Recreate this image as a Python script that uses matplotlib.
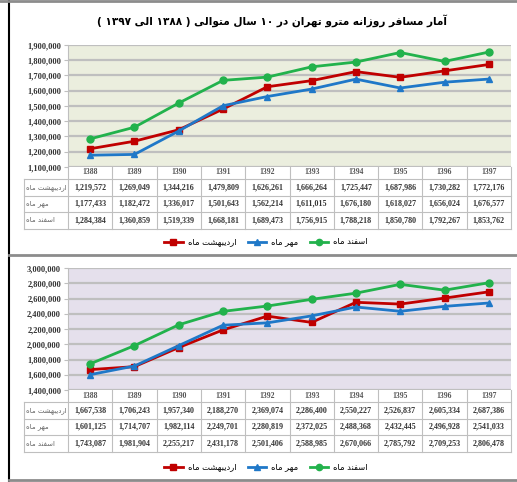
import numpy as np
import matplotlib
matplotlib.use('Agg')
import matplotlib.pyplot as plt
from matplotlib.lines import Line2D
from matplotlib.ticker import FuncFormatter

years = ['1388', '1389', '1390', '1391', '1392', '1393', '1394', '1395', '1396', '1397']
series_names = ['اردیبهشت ماه', 'مهر ماه', 'اسفند ماه']

# top chart
ordibehesht_1 = [1219572, 1269049, 1344216, 1479809, 1626261, 1666264, 1725447, 1687986, 1730282, 1772176]
mehr_1 = [1177433, 1182472, 1336017, 1501643, 1562214, 1611015, 1676180, 1618027, 1656024, 1676577]
esfand_1 = [1284384, 1360859, 1519339, 1668181, 1689473, 1756915, 1788218, 1850780, 1792267, 1853762]

# bottom chart
ordibehesht_2 = [1667538, 1706243, 1957340, 2188270, 2369074, 2286400, 2550227, 2526837, 2605334, 2687386]
mehr_2 = [1601125, 1714707, 1982114, 2249701, 2280819, 2372025, 2488368, 2432445, 2496928, 2541033]
esfand_2 = [1743087, 1981904, 2255217, 2431178, 2501406, 2588985, 2670066, 2785792, 2709253, 2806478]

title = 'آمار مسافر روزانه مترو تهران در ۱۰ سال متوالی ( ۱۳۸۸ الی ۱۳۹۷ )'

# --- small Persian shaper (matplotlib has no bidi / shaping) ---
FORMS = {
    '\u0622': ('\uFE81', '\uFE82', None, None),
    '\u0627': ('\uFE8D', '\uFE8E', None, None),
    '\u0628': ('\uFE8F', '\uFE90', '\uFE91', '\uFE92'),
    '\u062A': ('\uFE95', '\uFE96', '\uFE97', '\uFE98'),
    '\u062F': ('\uFEA9', '\uFEAA', None, None),
    '\u0631': ('\uFEAD', '\uFEAE', None, None),
    '\u0632': ('\uFEAF', '\uFEB0', None, None),
    '\u0633': ('\uFEB1', '\uFEB2', '\uFEB3', '\uFEB4'),
    '\u0634': ('\uFEB5', '\uFEB6', '\uFEB7', '\uFEB8'),
    '\u0641': ('\uFED1', '\uFED2', '\uFED3', '\uFED4'),
    '\u0644': ('\uFEDD', '\uFEDE', '\uFEDF', '\uFEE0'),
    '\u0645': ('\uFEE1', '\uFEE2', '\uFEE3', '\uFEE4'),
    '\u0646': ('\uFEE5', '\uFEE6', '\uFEE7', '\uFEE8'),
    '\u0647': ('\uFEE9', '\uFEEA', '\uFEEB', '\uFEEC'),
    '\u0648': ('\uFEED', '\uFEEE', None, None),
    '\u06CC': ('\uFBFC', '\uFBFD', '\uFBFE', '\uFBFF'),
}


def fa(s):
    out = []
    for i, c in enumerate(s):
        if c not in FORMS:
            out.append(c)
            continue
        prev = s[i - 1] if i > 0 else ''
        nxt = s[i + 1] if i < len(s) - 1 else ''
        jp = prev in FORMS and FORMS[prev][2] is not None
        jn = nxt in FORMS and FORMS[c][2] is not None
        f = FORMS[c]
        if jp and jn:
            out.append(f[3])
        elif jp:
            out.append(f[1])
        elif jn:
            out.append(f[2])
        else:
            out.append(f[0])
    vis = ''.join(out)[::-1]
    # put digit runs back in LTR order, mirror brackets
    res, run = [], ''
    for c in vis:
        if c.isdigit():
            run += c
        else:
            if run:
                res.append(run[::-1])
                run = ''
            res.append({'(': ')', ')': '('}.get(c, c))
    if run:
        res.append(run[::-1])
    return ''.join(res)


W, H = 517, 482
fig = plt.figure(figsize=(W / 100, H / 100), dpi=100)

red, blue, green = '#C00000', '#1F78C8', '#22B24C'
styles = [(red, 's'), (blue, '^'), (green, 'o')]


def panel(top, bottom, data, ylim, step, face, legend_y):
    ax = fig.add_axes([68 / W, 1 - bottom / H, (511 - 68) / W, (bottom - top) / H])
    ax.set_facecolor(face)
    x = np.arange(len(years))
    for vals, (c, m) in zip(data, styles):
        ax.plot(x, vals, color=c, marker=m, lw=2, ms=5, zorder=3)
    ax.set_xlim(-0.5, len(years) - 0.5)
    ax.set_ylim(*ylim)
    ax.set_yticks(np.arange(ylim[0], ylim[1] + 1, step))
    ax.yaxis.set_major_formatter(FuncFormatter(lambda v, p: '{:,.0f}'.format(v)))
    ax.grid(axis='y', color='#BFBFBF', lw=1.6)
    ax.set_axisbelow(True)
    for s in ['top', 'right', 'bottom']:
        ax.spines[s].set_visible(False)
    ax.spines['left'].set_color('#BFBFBF')
    ax.tick_params(axis='y', length=3, color='#BFBFBF', labelsize=6, labelcolor='#333333', pad=2)
    for lab in ax.get_yticklabels():
        lab.set_fontfamily('Liberation Serif')
        lab.set_fontweight('bold')
    ax.set_xticks([])

    # data table under the axes
    hpx = bottom - top
    tr = ax.get_xaxis_transform()
    row_px = [12, 28.5, 45, 62]  # table row borders below axis bottom (px)
    yb = [-p / hpx for p in row_px]
    lc = '#BFBFBF'
    for k in range(len(years) + 1):
        ax.add_line(Line2D([k - 0.5] * 2, [0, yb[-1]], transform=tr, color=lc, lw=0.8, clip_on=False))
    ax.add_line(Line2D([-1.5] * 2, [yb[0], yb[-1]], transform=tr, color=lc, lw=0.8, clip_on=False))
    for yy in yb:
        ax.add_line(Line2D([-1.5, len(years) - 0.5], [yy, yy], transform=tr, color=lc, lw=0.8, clip_on=False))
    for i, yr in enumerate(years):
        ax.text(i, -5.5 / hpx, yr, transform=tr, ha='center', va='center', fontsize=5.5,
                color='#555555', fontfamily='Liberation Serif', fontweight='bold')
    for r, vals in enumerate(data):
        yc = (yb[r] + yb[r + 1]) / 2
        ax.text(-1.45, yc, fa(series_names[r]), transform=tr, ha='left', va='center',
                fontsize=5, color='#666666')
        for i, v in enumerate(vals):
            ax.text(i, yc, '{:,}'.format(v), transform=tr, ha='center', va='center',
                    fontsize=5.8, color='#333333', fontfamily='Liberation Serif', fontweight='bold')

    handles = [Line2D([], [], color=c, marker=m, lw=2, ms=4.5) for c, m in styles]
    fig.legend(handles, [fa(n) for n in series_names], loc='center', ncol=3,
               bbox_to_anchor=(266 / W, 1 - legend_y / H), frameon=False, fontsize=6,
               handlelength=2.2, handletextpad=0.6, columnspacing=1.4)
    return ax


panel(45, 167, [ordibehesht_1, mehr_1, esfand_1], (1100000, 1900000), 100000, '#EBEEDE', 242)
panel(268, 390, [ordibehesht_2, mehr_2, esfand_2], (1400000, 3000000), 200000, '#E5E0EC', 467)

fig.text(272 / W, 1 - 21 / H, fa(title), ha='center', va='center', fontsize=7.6, fontweight='bold')

# frame lines
fig.add_artist(Line2D([9 / W, 9 / W], [0, 1], color='black', lw=1.5))
fig.add_artist(Line2D([9 / W, 1], [1 - 255 / H] * 2, color='#8C8C8C', lw=2))
fig.add_artist(Line2D([9 / W, 1], [1 - 480 / H] * 2, color='#8C8C8C', lw=2))
fig.add_artist(Line2D([0, 1], [1 - 1 / H] * 2, color='#8C8C8C', lw=2))

fig.savefig('out.png', dpi=100)
